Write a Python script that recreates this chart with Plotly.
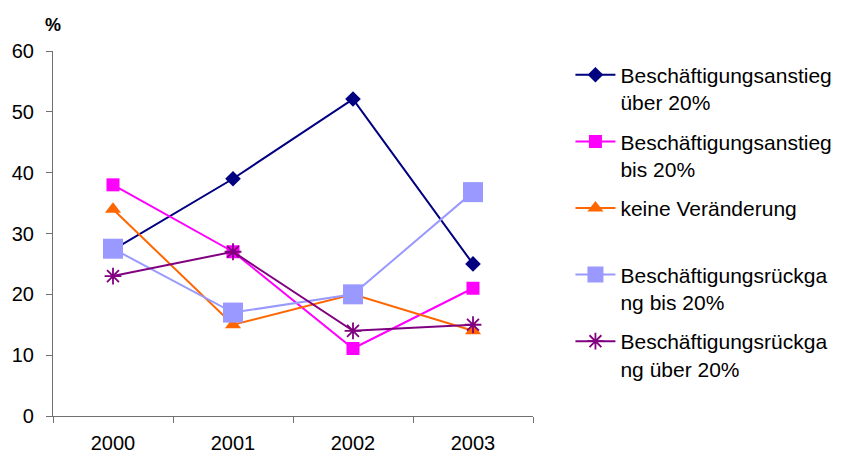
import plotly.graph_objects as go

years = ["2000", "2001", "2002", "2003"]

anstieg_ueber_20 = [27.3, 39, 52.1, 25]
anstieg_bis_20 = [38, 27, 11.1, 21]
keine_veraenderung = [34, 15, 20, 14]
rueckgang_bis_20 = [27.5, 17, 20, 36.8]
rueckgang_ueber_20 = [23, 27, 14, 15]

series = [
    ("Beschäftigungsanstieg<br>über 20%", anstieg_ueber_20, "#000080",
     dict(symbol="diamond", size=12)),
    ("Beschäftigungsanstieg<br>bis 20%", anstieg_bis_20, "#FF00FF",
     dict(symbol="square", size=13)),
    ("keine Veränderung<br>&nbsp;", keine_veraenderung, "#FF6600",
     dict(symbol="triangle-up", size=14)),
    ("Beschäftigungsrückga<br>ng bis 20%", rueckgang_bis_20, "#9999FF",
     dict(symbol="square", size=20)),
    ("Beschäftigungsrückga<br>ng über 20%", rueckgang_ueber_20, "#800080",
     dict(symbol="asterisk-open", size=14, line=dict(width=1.8, color="#800080"))),
]

fig = go.Figure()
for i, (name, vals, color, marker) in enumerate(series):
    fig.add_trace(go.Scatter(
        x=years, y=vals, name=name, mode="lines+markers",
        legendgroup=f"g{i}",
        line=dict(color=color, width=2),
        marker=dict(color=color, **marker),
    ))

fig.update_layout(
    width=846, height=457,
    margin=dict(l=53, r=313, t=51, b=41, autoexpand=False),
    plot_bgcolor="white", paper_bgcolor="white",
    font=dict(family="Liberation Sans, Arial, sans-serif", size=20, color="black"),
    legend=dict(
        x=1.078, xanchor="left", y=0.99, yanchor="top",
        font=dict(size=21), tracegroupgap=9, itemwidth=40,
        valign="top",
        bgcolor="rgba(0,0,0,0)",
    ),
    xaxis=dict(
        type="category", tickson="boundaries", range=[-0.5, 3.5],
        showline=True, linecolor="#707070", linewidth=1.2,
        ticks="outside", ticklen=6, tickcolor="#707070",
        ticklabelstandoff=9,
        showgrid=False, zeroline=False,
    ),
    yaxis=dict(
        range=[0, 60], dtick=10,
        showline=True, linecolor="#707070", linewidth=1.2,
        ticks="outside", ticklen=6, tickcolor="#707070",
        ticklabelstandoff=8,
        showgrid=False, zeroline=False,
    ),
    annotations=[dict(
        text="<b>%</b>", x=0.0, xref="paper", xanchor="center",
        y=1.07, yref="paper", yanchor="middle", showarrow=False,
        font=dict(size=18),
    )],
)

fig.write_html("out.html")
